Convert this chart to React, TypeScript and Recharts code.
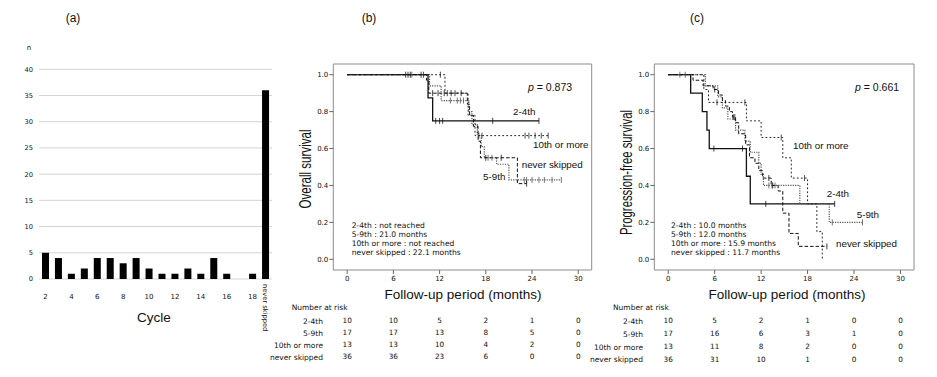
import React from "react";
import {
  Bar,
  BarChart,
  CartesianGrid,
  ComposedChart,
  Line,
  ReferenceArea,
  Scatter,
  XAxis,
  YAxis,
} from "recharts";

// ---- (a) skipped cycle distribution ----
const CYCLES = ["2", "3", "4", "5", "6", "7", "8", "9", "10", "11", "12", "13", "14", "15", "16", "17", "18", "never skipped"];
const PATIENTS = [5, 4, 1, 2, 4, 4, 3, 4, 2, 1, 1, 2, 1, 4, 1, 0, 1, 36];
const COUNT_TICKS = [0, 5, 10, 15, 20, 25, 30, 35, 40];

// ---- KM curves: [month, survival] steps, last point = end of follow-up ----
const GROUPS = ["2-4th", "5-9th", "10th or more", "never skipped"];
const MONTH_TICKS = [0, 6, 12, 18, 24, 30];
const SURV_TICKS = [0, 0.2, 0.4, 0.6, 0.8, 1.0];

const OS_24 = [[0, 1], [10.5, 0.875], [11.1, 0.75], [24.9, 0.75]];
const OS_24_CENS = [7.6, 7.9, 8.2, 11.5, 12.0, 12.4, 18.9, 24.9];
const OS_59 = [[0, 1], [10.7, 0.94], [12.2, 0.86], [15.8, 0.8], [16.2, 0.73], [16.9, 0.67], [17.4, 0.61], [17.8, 0.55], [19.4, 0.515], [21.0, 0.43], [27.8, 0.43]];
const OS_59_CENS = [8.4, 13.4, 14.3, 14.7, 15.1, 18.3, 18.8, 23.0, 23.3, 24.0, 24.9, 25.6, 26.6, 27.8];
const OS_10 = [[0, 1], [12.7, 0.9], [15.7, 0.78], [16.6, 0.67], [26.1, 0.67]];
const OS_10_CENS = [9.6, 9.9, 12.1, 13.0, 14.0, 17.1, 17.5, 23.1, 23.6, 24.4, 25.2, 26.1];
const OS_NS = [[0, 1], [10.3, 0.97], [10.6, 0.9], [15.6, 0.84], [15.9, 0.78], [16.4, 0.72], [17.0, 0.64], [17.3, 0.55], [22.1, 0.41], [23.3, 0.41]];
const OS_NS_CENS = [11.1, 11.8, 12.6, 13.5, 14.8, 18.0, 20.0, 23.3];

const PFS_24 = [[0, 1], [2.9, 0.9], [4.4, 0.8], [5.0, 0.7], [5.3, 0.6], [10.1, 0.45], [10.6, 0.3], [21.5, 0.3]];
const PFS_24_CENS = [5.9, 9.6, 12.6, 21.5];
const PFS_59 = [[0, 1], [4.8, 0.94], [6.4, 0.88], [7.0, 0.82], [7.7, 0.76], [8.7, 0.7], [9.9, 0.64], [10.6, 0.58], [11.7, 0.52], [12.0, 0.46], [12.3, 0.4], [17.0, 0.3], [20.8, 0.2], [25.1, 0.2]];
const PFS_59_CENS = [1.5, 2.2, 13.0, 13.4, 13.8, 21.2, 25.1];
const PFS_10 = [[0, 1], [4.6, 0.92], [5.2, 0.85], [10.1, 0.75], [12.0, 0.66], [14.8, 0.55], [15.9, 0.44], [18.0, 0.3], [19.2, 0.15], [19.9, 0.0]];
const PFS_10_CENS = [6.3, 9.9, 14.6, 17.6];
const PFS_NS = [[0, 1], [3.2, 0.97], [4.5, 0.94], [5.8, 0.92], [6.5, 0.89], [7.0, 0.86], [7.4, 0.83], [7.9, 0.8], [8.3, 0.77], [8.7, 0.74], [9.1, 0.68], [10.0, 0.62], [10.5, 0.55], [11.2, 0.52], [11.7, 0.48], [12.2, 0.44], [13.3, 0.4], [14.2, 0.37], [14.8, 0.25], [15.6, 0.14], [16.8, 0.07], [20.5, 0.07]];
const PFS_NS_CENS = [6.0, 8.4, 8.6, 13.0, 13.5, 20.5];

// numbers at risk at 0, 6, 12, 18, 24, 30 months
const OS_RISK = [
  [10, 10, 5, 2, 1, 0],
  [17, 17, 13, 8, 5, 0],
  [13, 13, 10, 4, 2, 0],
  [36, 36, 23, 6, 0, 0],
];
const PFS_RISK = [
  [10, 5, 2, 1, 0, 0],
  [17, 16, 6, 3, 1, 0],
  [13, 11, 8, 2, 0, 0],
  [36, 31, 10, 1, 0, 0],
];

const SMALL = "'DejaVu Sans', Verdana, sans-serif";
const MAIN = "'Liberation Sans', Arial, sans-serif";
const INK = "#111";

const LINE_STYLES = [
  { stroke: "#111", width: 1.3, dash: undefined },
  { stroke: "#555", width: 1.2, dash: "1.2 1.2" },
  { stroke: "#222", width: 1, dash: "1.8 2.2" },
  { stroke: "#111", width: 1, dash: "3.5 2" },
];

const survAt = (steps: number[][], t: number) => {
  let s = steps[0][1];
  for (const [tt, ss] of steps) if (tt <= t) s = ss;
  return s;
};

function CycleTick(props: any) {
  const { x, y, payload } = props;
  const v = payload.value as string;
  if (v === "never skipped") {
    return (
      <text transform={`translate(${x - 2.4},${y + 3}) rotate(90)`} fontSize={6.7} fontFamily={SMALL} fill={INK}>
        {v}
      </text>
    );
  }
  if (Number(v) % 2 !== 0) return null;
  return (
    <text x={x} y={y + 17.5} textAnchor="middle" fontSize={7} fontFamily={SMALL} fill={INK}>
      {v}
    </text>
  );
}

function CensorMark(props: any) {
  const { cx, cy, stroke } = props;
  if (cx == null || cy == null) return null;
  return <line x1={cx} x2={cx} y1={cy - 3} y2={cy + 3} stroke={stroke} strokeWidth={0.8} />;
}

const X_DOMAIN: [number, number] = [-1.8, 31.75];
const Y_DOMAIN: [number, number] = [-0.058, 1.058];

function KMPanel(props: {
  yWidth: number;
  right: number;
  bottom: number;
  rowH: number;
  labelOffset: number;
  curves: number[][][];
  censored: number[][];
  risk: number[][];
}) {
  const { yWidth, right, bottom, rowH, labelOffset, curves, censored, risk } = props;
  const tm = rowH / 2 - 3.2;
  return (
    <ComposedChart width={340} height={330} margin={{ top: 24, right, bottom, left: 0 }}>
      <XAxis
        type="number"
        dataKey="t"
        domain={X_DOMAIN}
        ticks={MONTH_TICKS}
        allowDataOverflow
        height={45}
        axisLine={false}
        tickSize={4}
        tickMargin={2.2}
        tickLine={{ stroke: "#666" }}
        tick={{ fontSize: 7, fontFamily: SMALL, fill: INK }}
      />
      {risk.map((row, k) => (
        <XAxis
          key={k}
          xAxisId={`r${k}`}
          type="number"
          dataKey="t"
          domain={X_DOMAIN}
          ticks={MONTH_TICKS}
          allowDataOverflow
          height={rowH}
          axisLine={false}
          tickLine={false}
          tickSize={0}
          tickMargin={tm}
          tickFormatter={(v: number) => String(row[MONTH_TICKS.indexOf(v)])}
          tick={{ fontSize: 7.3, fontFamily: SMALL, fill: INK }}
          label={{ value: GROUPS[k], position: "left", offset: labelOffset, fontSize: 7.5, fontFamily: SMALL, fill: INK }}
        />
      ))}
      <YAxis
        type="number"
        dataKey="s"
        domain={Y_DOMAIN}
        ticks={SURV_TICKS}
        allowDataOverflow
        width={yWidth}
        axisLine={false}
        tickSize={4}
        tickMargin={1}
        tickLine={{ stroke: "#666" }}
        tickFormatter={(v: number) => v.toFixed(1)}
        tick={{ fontSize: 7, fontFamily: SMALL, fill: INK }}
      />
      <ReferenceArea x1={X_DOMAIN[0]} x2={X_DOMAIN[1]} y1={Y_DOMAIN[0]} y2={Y_DOMAIN[1]} fill="none" stroke="#8c8c8c" strokeWidth={1} ifOverflow="visible" />
      {curves.map((steps, k) => (
        <Line
          key={`l${k}`}
          data={steps.map(([t, s]) => ({ t, s }))}
          dataKey="s"
          type="stepAfter"
          dot={false}
          stroke={LINE_STYLES[k].stroke}
          strokeWidth={LINE_STYLES[k].width}
          strokeDasharray={LINE_STYLES[k].dash}
          isAnimationActive={false}
        />
      ))}
      {censored.map((times, k) => (
        <Scatter
          key={`c${k}`}
          data={times.map((t) => ({ t, s: survAt(curves[k], t) }))}
          shape={(p: any) => <CensorMark {...p} stroke={LINE_STYLES[k].stroke} />}
          isAnimationActive={false}
        />
      ))}
      {/* invisible carriers so the at-risk axes get their domain */}
      {risk.map((row, k) => (
        <Scatter
          key={`r${k}`}
          xAxisId={`r${k}`}
          data={MONTH_TICKS.map((t) => ({ t, s: 0.5 }))}
          shape={() => <g />}
          isAnimationActive={false}
        />
      ))}
    </ComposedChart>
  );
}

type Txt = { x: number; y: number; s: string; size: number; font?: string; anchor?: string };

// y given as cap-centre, converted to baseline
const ANNOTATIONS: Txt[] = [
  { x: 73, y: 18, s: "(a)", size: 12, anchor: "middle" },
  { x: 369, y: 18, s: "(b)", size: 12, anchor: "middle" },
  { x: 697, y: 18, s: "(c)", size: 12, anchor: "middle" },
  { x: 154, y: 317, s: "Cycle", size: 13.5, anchor: "middle" },
  { x: 463, y: 294, s: "Follow-up period (months)", size: 13.5, anchor: "middle" },
  { x: 787, y: 294, s: "Follow-up period (months)", size: 13.5, anchor: "middle" },
  { x: 291.7, y: 307, s: "Number at risk", size: 7.5, font: SMALL },
  { x: 613, y: 307, s: "Number at risk", size: 7.5, font: SMALL },
  { x: 513, y: 111.7, s: "2-4th", size: 9.8 },
  { x: 533, y: 144, s: "10th or more", size: 9.8 },
  { x: 521.7, y: 164, s: "never skipped", size: 9.8 },
  { x: 483, y: 176, s: "5-9th", size: 9.8 },
  { x: 793, y: 145, s: "10th or more", size: 9.8 },
  { x: 826.7, y: 193, s: "2-4th", size: 9.8 },
  { x: 856.7, y: 214, s: "5-9th", size: 9.8 },
  { x: 836, y: 243, s: "never skipped", size: 9.8 },
  { x: 351.7, y: 225, s: "2-4th : not reached", size: 7.6, font: SMALL },
  { x: 351.7, y: 234, s: "5-9th : 21.0 months", size: 7.6, font: SMALL },
  { x: 351.7, y: 243.3, s: "10th or more : not reached", size: 7.6, font: SMALL },
  { x: 351.7, y: 252, s: "never skipped : 22.1 months", size: 7.6, font: SMALL },
  { x: 671, y: 225.7, s: "2-4th : 10.0 months", size: 7.6, font: SMALL },
  { x: 671, y: 234.7, s: "5-9th : 12.0 months", size: 7.6, font: SMALL },
  { x: 671, y: 243.7, s: "10th or more : 15.9 months", size: 7.6, font: SMALL },
  { x: 671, y: 252.7, s: "never skipped : 11.7 months", size: 7.6, font: SMALL },
];

function Overlay() {
  return (
    <svg width={937} height={377} style={{ position: "absolute", left: 0, top: 0, pointerEvents: "none" }}>
      {ANNOTATIONS.map((a, i) => (
        <text
          key={i}
          x={a.x}
          y={a.y + 0.36 * a.size}
          fontSize={a.size}
          fontFamily={a.font ?? MAIN}
          textAnchor={(a.anchor as any) ?? "start"}
          fill={INK}
        >
          {a.s}
        </text>
      ))}
      <text x={29} y={50} fontSize={7} fontFamily={SMALL} textAnchor="middle" fill={INK}>n</text>
      <text x={528} y={91} fontSize={10.5} fontFamily={MAIN} fill={INK}>
        <tspan fontStyle="italic">p</tspan> = 0.873
      </text>
      <text x={855} y={91} fontSize={10.5} fontFamily={MAIN} fill={INK}>
        <tspan fontStyle="italic">p</tspan> = 0.661
      </text>
      <text
        transform="translate(310.6,169) rotate(-90)"
        textAnchor="middle"
        fontSize={17}
        fontFamily={MAIN}
        fill={INK}
        textLength={79}
        lengthAdjust="spacingAndGlyphs"
      >
        Overall survival
      </text>
      <text
        transform="translate(631.7,172.5) rotate(-90)"
        textAnchor="middle"
        fontSize={17}
        fontFamily={MAIN}
        fill={INK}
        textLength={125}
        lengthAdjust="spacingAndGlyphs"
      >
        Progression-free survival
      </text>
    </svg>
  );
}

export default function App() {
  const cycleData = CYCLES.map((c, i) => ({ cycle: c, n: PATIENTS[i] }));
  return (
    <div style={{ position: "absolute", left: 0, top: 0, width: 937, height: 377, background: "#fff", overflow: "hidden" }}>
      <div style={{ position: "absolute", left: 0, top: 40 }}>
        <BarChart width={285} height={300} data={cycleData} margin={{ top: 29.3, right: 13, bottom: 0, left: 0 }}>
          <CartesianGrid vertical={false} stroke="#d4d4d4" />
          <XAxis dataKey="cycle" interval={0} height={61} axisLine={false} tickLine={false} tickSize={0} tick={<CycleTick />} />
          <YAxis
            domain={[0, 40]}
            ticks={COUNT_TICKS}
            width={39}
            axisLine={false}
            tickLine={false}
            tickSize={0}
            tickMargin={6}
            tick={{ fontSize: 6.7, fontFamily: SMALL, fill: INK }}
          />
          <Bar dataKey="n" fill="#000" barSize={7} isAnimationActive={false} />
        </BarChart>
      </div>
      <div style={{ position: "absolute", left: 262, top: 40 }}>
        <KMPanel
          yWidth={71.3}
          right={10.3}
          bottom={7}
          rowH={12}
          labelOffset={10.3}
          curves={[OS_24, OS_59, OS_10, OS_NS]}
          censored={[OS_24_CENS, OS_59_CENS, OS_10_CENS, OS_NS_CENS]}
          risk={OS_RISK}
        />
      </div>
      <div style={{ position: "absolute", left: 585, top: 40 }}>
        <KMPanel
          yWidth={69.3}
          right={11}
          bottom={3.8}
          rowH={12.8}
          labelOffset={11.3}
          curves={[PFS_24, PFS_59, PFS_10, PFS_NS]}
          censored={[PFS_24_CENS, PFS_59_CENS, PFS_10_CENS, PFS_NS_CENS]}
          risk={PFS_RISK}
        />
      </div>
      <Overlay />
    </div>
  );
}
